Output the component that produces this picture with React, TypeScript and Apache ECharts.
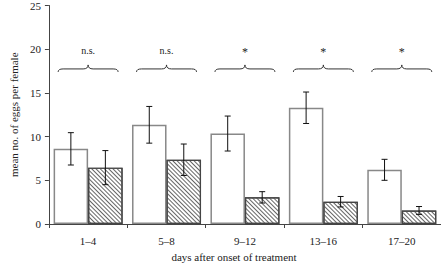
import React, { useEffect, useRef } from "react";
import * as echarts from "echarts";

const categories = ["1–4", "5–8", "9–12", "13–16", "17–20"];
const controlMeans = [8.6, 11.35, 10.35, 13.3, 6.2];
const controlErr = [1.85, 2.1, 2.0, 1.8, 1.2];
const treatedMeans = [6.45, 7.35, 3.05, 2.55, 1.55];
const treatedErr = [1.95, 1.8, 0.65, 0.6, 0.45];
const sigLabels = ["n.s.", "n.s.", "*", "*", "*"];
const braceLevels = [17.4, 17.4, 17.4, 17.4, 17.4];
const yMax = 25;
const yStep = 5;
const xTitle = "days after onset of treatment";
const yTitle = "mean no. of eggs per female";

const FONT = '"Liberation Serif", "DejaVu Serif", serif';

export default function App() {
  const ref = useRef<HTMLDivElement>(null);
  useEffect(() => {
    if (!ref.current) return;
    const chart = echarts.init(ref.current, null, { renderer: "svg" });
    const BAR_W = 34.5;
    const errData: number[][] = [];
    controlMeans.forEach((m, i) => errData.push([i, m - controlErr[i], m + controlErr[i], -1]));
    treatedMeans.forEach((m, i) => errData.push([i, m - treatedErr[i], m + treatedErr[i], 1]));
    const braceData = braceLevels.map((v, i) => [i, v]);

    chart.setOption({
      animation: false,
      grid: { left: 43, right: 0, top: 5, bottom: 41, containLabel: false },
      graphic: [
        {
          type: "text",
          x: 234,
          y: 257,
          style: {
            text: xTitle,
            textAlign: "center",
            textVerticalAlign: "middle",
            font: `11px ${FONT}`,
            fill: "#222",
          },
        },
      ],
      xAxis: {
        type: "category",
        data: categories,
        boundaryGap: true,
        axisLine: { lineStyle: { color: "#444", width: 1 } },
        axisTick: { show: true, length: 4, lineStyle: { color: "#444" } },
        axisLabel: { fontFamily: FONT, fontSize: 11, color: "#222", margin: 11 },
      },
      yAxis: {
        type: "value",
        min: 0,
        max: yMax,
        interval: yStep,
        name: yTitle,
        nameLocation: "middle",
        nameGap: 27,
        nameTextStyle: { fontFamily: FONT, fontSize: 11, color: "#222" },
        axisLine: { show: true, lineStyle: { color: "#444", width: 1 } },
        axisTick: { show: true, length: 4, lineStyle: { color: "#444" } },
        axisLabel: { fontFamily: FONT, fontSize: 11, color: "#222", margin: 8 },
        splitLine: { show: false },
      },
      series: [
        {
          type: "bar",
          data: controlMeans,
          barWidth: BAR_W,
          barGap: "0%",
          itemStyle: { color: "#ffffff", borderColor: "#888", borderWidth: 1.5 },
        },
        {
          type: "bar",
          data: treatedMeans,
          barWidth: BAR_W,
          barGap: "0%",
          itemStyle: {
            color: "#ffffff",
            borderColor: "#444",
            borderWidth: 1.2,
            decal: {
              symbol: "rect",
              symbolSize: 1,
              dashArrayX: [1, 0],
              dashArrayY: [0.8, 1.4],
              rotation: Math.PI / 4,
              color: "#666",
              backgroundColor: "#ffffff",
            },
          },
        },
        {
          type: "custom",
          data: errData,
          z: 10,
          renderItem: (params: any, api: any) => {
            const i = api.value(0);
            const side = api.value(3);
            const lo = api.coord([i, api.value(1)]);
            const hi = api.coord([i, api.value(2)]);
            const x = lo[0] + (side * BAR_W) / 2;
            const cap = 3;
            const st = { stroke: "#111", lineWidth: 1 };
            return {
              type: "group",
              children: [
                { type: "line", shape: { x1: x, y1: lo[1], x2: x, y2: hi[1] }, style: st },
                { type: "line", shape: { x1: x - cap, y1: lo[1], x2: x + cap, y2: lo[1] }, style: st },
                { type: "line", shape: { x1: x - cap, y1: hi[1], x2: x + cap, y2: hi[1] }, style: st },
              ],
            };
          },
        },
        {
          type: "custom",
          data: braceData,
          z: 10,
          renderItem: (params: any, api: any) => {
            const i = api.value(0);
            const p = api.coord([i, api.value(1)]);
            const xc = p[0];
            const yb = p[1];
            const hw = 30;
            const x0 = xc - hw;
            const x1 = xc + hw;
            const yH = yb - 3;
            const yC = yb - 7;
            const r = 5;
            const st = { stroke: "#333", lineWidth: 1, fill: "none" };
            const isStar = sigLabels[i] === "*";
            return {
              type: "group",
              children: [
                { type: "bezierCurve", shape: { x1: x0, y1: yb, cpx1: x0, cpy1: yH, x2: x0 + r, y2: yH }, style: st },
                { type: "line", shape: { x1: x0 + r, y1: yH, x2: xc - r, y2: yH }, style: st },
                { type: "bezierCurve", shape: { x1: xc - r, y1: yH, cpx1: xc, cpy1: yH, x2: xc, y2: yC }, style: st },
                { type: "bezierCurve", shape: { x1: xc, y1: yC, cpx1: xc, cpy1: yH, x2: xc + r, y2: yH }, style: st },
                { type: "line", shape: { x1: xc + r, y1: yH, x2: x1 - r, y2: yH }, style: st },
                { type: "bezierCurve", shape: { x1: x1 - r, y1: yH, cpx1: x1, cpy1: yH, x2: x1, y2: yb }, style: st },
                {
                  type: "text",
                  style: {
                    text: sigLabels[i],
                    x: xc,
                    y: isStar ? yb - 19.5 : yb - 21,
                    textAlign: "center",
                    textVerticalAlign: "middle",
                    font: `${isStar ? 12 : 10}px ${FONT}`,
                    fill: "#222",
                  },
                },
              ],
            };
          },
        },
      ],
    });
    return () => chart.dispose();
  }, []);
  return <div ref={ref} style={{ width: 441, height: 265, position: "absolute", left: 0, top: 0, background: "#fff" }} />;
}
